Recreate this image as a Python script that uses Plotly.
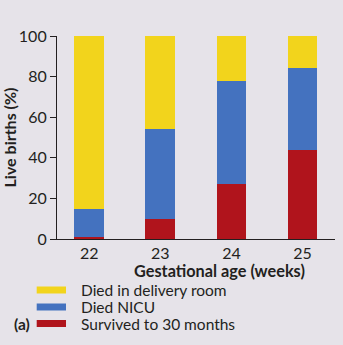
import plotly.graph_objects as go

weeks = ["22", "23", "24", "25"]
week_num = [22, 23, 24, 25]
survived = [1, 10, 27, 44]
died_nicu = [14, 44, 51, 40]
died_delivery = [85, 46, 22, 16]
series_names = ["Died in delivery room", "Died NICU", "Survived to 30 months"]
colors = {"Survived to 30 months": "#b0141c", "Died NICU": "#4472bf", "Died in delivery room": "#f2d41c"}

bg = "#e6e3e9"
font = "Lato"
ink = "#231f20"

fig = go.Figure()
for name, vals in [("Survived to 30 months", survived), ("Died NICU", died_nicu), ("Died in delivery room", died_delivery)]:
    fig.add_trace(go.Bar(x=week_num, y=vals, name=name, marker=dict(color=colors[name], line=dict(width=0)),
                         width=0.42, showlegend=False))

fig.update_layout(
    barmode="stack",
    width=343, height=345,
    margin=dict(l=57, r=8, t=36, b=106),
    paper_bgcolor=bg, plot_bgcolor=bg,
    font=dict(family=font, size=15, color=ink),
    xaxis=dict(range=[21.546, 25.457], tickvals=week_num, ticktext=weeks, showgrid=False, zeroline=False,
               showline=True, linecolor=ink, linewidth=1.2, ticks="", tickfont=dict(size=16)),
    yaxis=dict(range=[0, 100], tickvals=[0, 20, 40, 60, 80, 100], showgrid=False, zeroline=False,
               showline=True, linecolor=ink, linewidth=1.2, ticks="outside", ticklen=6, tickwidth=1.2,
               tickcolor=ink, tickfont=dict(size=16),
               title=dict(text="<b>Live births (%)</b>", font=dict(size=16), standoff=1)),
)

def px_to_paper_x(px):
    return (px - 57) / 278

def px_to_paper_y(py):
    return (345 - 106 - py) / 203

fig.add_annotation(xref="paper", yref="paper", x=px_to_paper_x(219), y=px_to_paper_y(270),
                   text="<b>Gestational age (weeks)</b>", showarrow=False, xanchor="center", yanchor="middle",
                   font=dict(size=16.3, family=font, color=ink))

# legend drawn manually
leg_y = [290, 307, 323.5]
for name, yy in zip(series_names, leg_y):
    fig.add_shape(type="rect", xref="paper", yref="paper",
                  x0=px_to_paper_x(36.7), x1=px_to_paper_x(66),
                  y0=px_to_paper_y(yy + 3.5), y1=px_to_paper_y(yy - 3.5),
                  fillcolor=colors[name], line=dict(width=0))
    fig.add_annotation(xref="paper", yref="paper", x=px_to_paper_x(79), y=px_to_paper_y(yy),
                       text=name, showarrow=False, xanchor="left", yanchor="middle",
                       font=dict(size=15.5, family=font, color=ink))
fig.add_annotation(xref="paper", yref="paper", x=px_to_paper_x(32), y=px_to_paper_y(323.5),
                   text="<b>(a)</b>", showarrow=False, xanchor="right", yanchor="middle",
                   font=dict(size=15.5, family=font, color=ink))

fig.write_html("out.html")
